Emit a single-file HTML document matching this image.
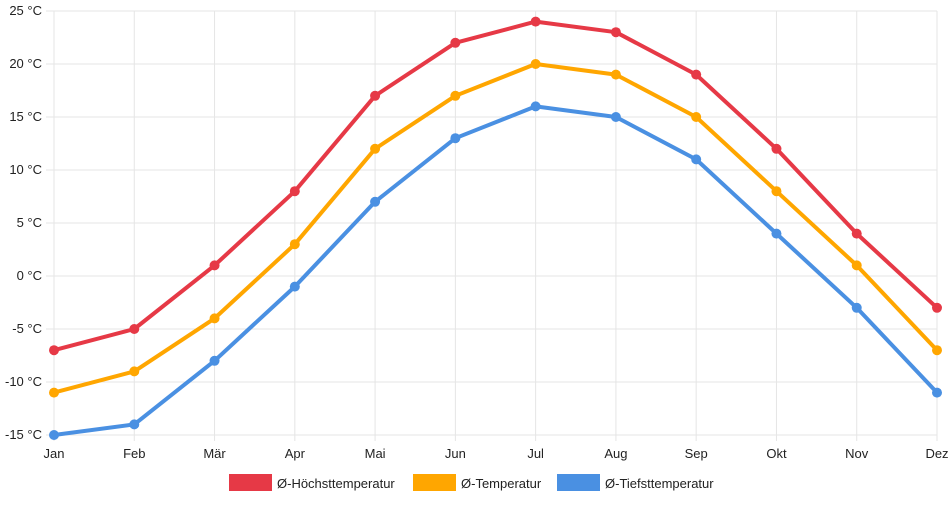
<!DOCTYPE html>
<html><head><meta charset="utf-8"><style>
body{margin:0;background:#fff;font-family:"Liberation Sans",sans-serif;}
svg text{font-family:"Liberation Sans",sans-serif;font-size:13px;fill:#222;}
</style></head><body>
<svg id="c" width="952" height="500"></svg>
<script>
const months=["Jan","Feb","Mär","Apr","Mai","Jun","Jul","Aug","Sep","Okt","Nov","Dez"];
const high=[-7,-5,1,8,17,22,24,23,19,12,4,-3];
const avg=[-11,-9,-4,3,12,17,20,19,15,8,1,-7];
const low=[-15,-14,-8,-1,7,13,16,15,11,4,-3,-11];
const yTicks=[25,20,15,10,5,0,-5,-10,-15];
const seriesNames=["Ø-Höchsttemperatur","Ø-Temperatur","Ø-Tiefsttemperatur"];
const colors=["#e63946","#ffa600","#4a90e2"];
const svg=document.getElementById('c');const NS="http://www.w3.org/2000/svg";
const x0=54,x1=937,yTop=11,yBot=435,vMax=25,vMin=-15;
const X=i=>x0+i*(x1-x0)/(months.length-1);
const Y=v=>yTop+(vMax-v)*(yBot-yTop)/(vMax-vMin);
function mk(t,a,txt){const e=document.createElementNS(NS,t);for(const k in a)e.setAttribute(k,a[k]);if(txt!=null)e.textContent=txt;svg.appendChild(e);return e;}
yTicks.forEach(v=>{
 const l=mk('line',{x1:46,x2:x1,y1:Y(v),y2:Y(v),stroke:'#e5e5e5','stroke-width':1});
 
 
 const t=mk('text',{x:42,y:Y(v)+4,'text-anchor':'end'},v+' °C');
 
 
});
months.forEach((m,i)=>{
 const l=mk('line',{x1:X(i),x2:X(i),y1:yTop,y2:yBot+6,stroke:'#e5e5e5','stroke-width':1});
 
 
 const t=mk('text',{x:X(i),y:458,'text-anchor':'middle'},m);
 
 
});
[high,avg,low].forEach((d,s)=>{
 const p=mk('polyline',{points:d.map((v,i)=>X(i)+','+Y(v)).join(' '),fill:'none',stroke:colors[s],'stroke-width':4,'stroke-linejoin':'round'});
 
 
 d.forEach((v,i)=>{
  const c=mk('circle',{cx:X(i),cy:Y(v),r:5,fill:colors[s]});
  
  
 });
});
const lx=[229,413,557];
seriesNames.forEach((n,s)=>{
 const r=mk('rect',{x:lx[s],y:474,width:43,height:17,fill:colors[s]});
 
 
 const t=mk('text',{x:lx[s]+48,y:488},n);
 
 
});
</script>
</body></html>
